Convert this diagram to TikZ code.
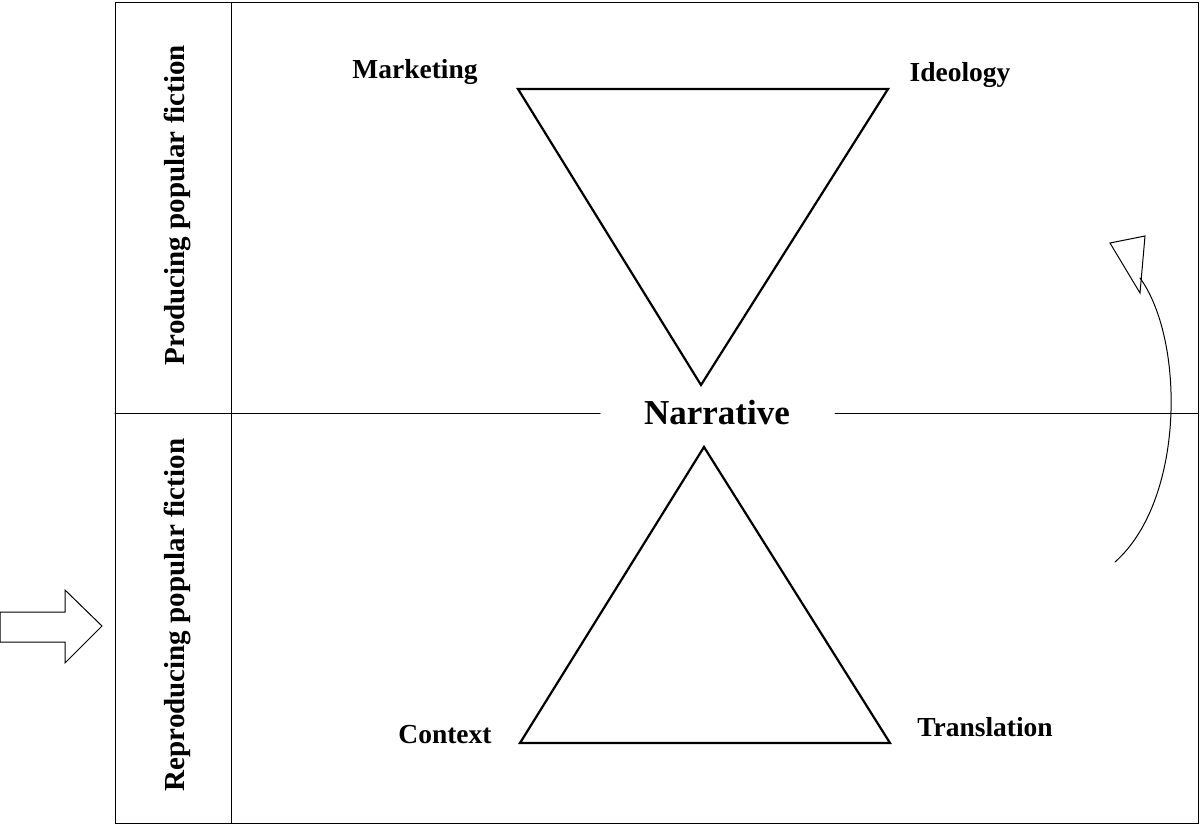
\documentclass[tikz,border=0pt]{standalone}
\usepackage{fontspec}
\setmainfont{Liberation Serif}
\begin{document}
\begin{tikzpicture}[x=1pt,y=-1pt,line cap=round,
  lbl/.style={font=\bfseries\fontsize{27.5}{30}\selectfont},
  side/.style={font=\bfseries\fontsize{29}{31}\selectfont},
  thin/.style={line width=1pt},
  tri/.style={line width=2.2pt,line join=miter}]
\useasboundingbox (0,0) rectangle (1200,825);
\draw[thin] (115,2) rectangle (231,823);
\draw[thin] (231,2) rectangle (1198,823);
\node[lbl] (nar) at (717,413) {\fontsize{35}{38}\selectfont Narrative};
\coordinate (l0) at (115,413);
\coordinate (l1) at (600,413);
\coordinate (r1) at (835,413);
\coordinate (r0) at (1198,413);
\draw[thin] (l0) -- (l1);
\draw[thin] (r1) -- (r0);
\node[side,rotate=90] (prod) at (177,205) {Producing popular fiction};
\node[side,rotate=90] (repr) at (177,615) {Reproducing popular fiction};
\draw[tri] (518,89) -- (888,89) -- (701,385) -- cycle;
\draw[tri] (704,447) -- (890,743) -- (520,743) -- cycle;
\node[lbl] (mk) at (415,72) {Marketing};
\node[lbl] (id) at (960,75) {Ideology};
\node[lbl] (cx) at (445,735) {Context};
\node[lbl] (tr) at (985,727) {Translation};
\draw[thin] (0,612) -- (65,612) -- (65,590) -- (102,626) -- (65,663) -- (65,642) -- (0,642) -- cycle;
\draw[thin] (1115,562) .. controls (1185,500) and (1185,340) .. (1140,278);
\draw[thin,line join=miter] (1110,243) -- (1145,236) -- (1140,293) -- cycle;
\end{tikzpicture}
\end{document}
